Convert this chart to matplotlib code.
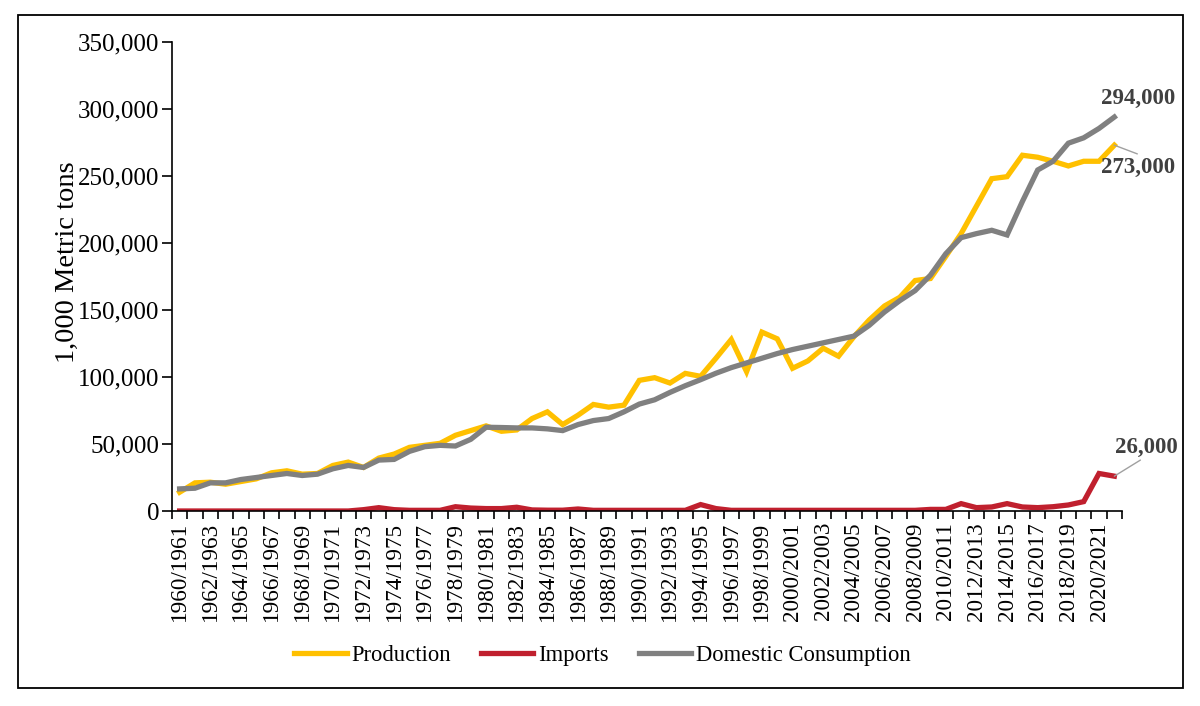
import matplotlib
matplotlib.use('Agg')
import matplotlib.pyplot as plt
from matplotlib.patches import Rectangle
from matplotlib.ticker import FuncFormatter, FixedLocator, NullFormatter
import numpy as np

plt.rcParams['font.family'] = ['Liberation Serif', 'DejaVu Serif']

# marketing years 1960/1961 .. 2021/2022
years = [f'{y}/{y + 1}' for y in range(1960, 2022)]

production = [
    14000, 21000, 21500, 20000, 22000, 24000, 28500, 30000, 27500, 28000,
    34000, 36500, 32500, 39500, 42500, 47500, 49000, 50500, 56500, 60000,
    63500, 59500, 60500, 69000, 74000, 64500, 71500, 79500, 77500, 79000,
    97500, 99500, 95500, 102700, 100500, 114000, 128000, 104000, 133500, 128500,
    106500, 112000, 121500, 115500, 130000, 142500, 153000, 159500, 172000, 173500,
    190000, 207000, 227500, 248000, 249500, 265500, 264000, 261000, 257500, 261000,
    261000, 273000,
]

imports = [
    0, 0, 0, 0, 0, 0, 0, 0, 0, 0,
    0, 0, 1000, 2500, 1000, 500, 500, 500, 3200, 2200,
    1800, 1800, 2800, 800, 600, 600, 1500, 500, 500, 500,
    500, 500, 500, 500, 4800, 1800, 500, 500, 500, 500,
    500, 500, 500, 500, 500, 500, 500, 500, 500, 1200,
    1200, 5500, 2500, 3000, 5500, 3000, 2500, 3200, 4500, 7000,
    28000, 26000,
]

consumption = [
    16500, 17000, 21000, 21000, 23500, 25000, 26500, 28000, 26500, 27500,
    31500, 34000, 32500, 38000, 38500, 44500, 48000, 49000, 48500, 53500,
    62500, 62300, 62000, 62000, 61300, 60000, 64500, 67500, 69000, 74000,
    79800, 83000, 88500, 93500, 98000, 102800, 107000, 110500, 114000, 117500,
    120500, 123000, 125500, 128000, 130500, 138500, 148500, 157000, 164500, 176000,
    192000, 204000, 207000, 209500, 206000, 231000, 254500, 261000, 274500, 278500,
    285500, 294000,
]

series = [
    ('Production', production, '#FFC000'),
    ('Imports', imports, '#C0202E'),
    ('Domestic Consumption', consumption, '#808080'),
]

fig = plt.figure(figsize=(12, 7.06), dpi=100)
ax = fig.add_axes([0.1433, 0.2762, 0.7917, 0.6643])

x = np.arange(len(years))
for name, vals, color in series:
    ax.plot(x, vals, color=color, lw=3.8, label=name, solid_joinstyle='miter')

ax.set_xlim(-0.5, len(years) - 0.5)
ax.set_ylim(0, 350000)
ax.set_yticks(np.arange(0, 350001, 50000))
ax.yaxis.set_major_formatter(FuncFormatter(lambda v, p: f'{int(v):,}'))

# category axis: tick marks between categories, labels on every second year
ax.xaxis.set_major_locator(FixedLocator(np.arange(-0.5, len(years), 1)))
ax.xaxis.set_major_formatter(NullFormatter())
ax.xaxis.set_minor_locator(FixedLocator(x[::2]))
ax.set_xticklabels(years[::2], minor=True, rotation=90, fontsize=16.7)
ax.tick_params(axis='x', which='major', length=6, width=1.2, direction='out')
ax.tick_params(axis='x', which='minor', length=0, pad=8)
ax.tick_params(axis='y', length=7, width=1.2, labelsize=18, pad=2)

for s in ['top', 'right']:
    ax.spines[s].set_visible(False)
for s in ['left', 'bottom']:
    ax.spines[s].set_linewidth(1.2)
ax.set_ylabel('1,000 Metric tons', fontsize=20.5)
ax.yaxis.set_label_coords(-0.097, 0.53)

# end value labels
last = len(years) - 1
lbl = dict(fontsize=16.5, fontweight='bold', color='#404040', ha='left', va='center')
leader = dict(arrowstyle='-', color='#A0A0A0', lw=1, shrinkA=0, shrinkB=0)
ax.text(last - 0.85, 308000, f'{consumption[-1]:,}', clip_on=False, **lbl)
ax.text(last - 0.85, 256000, f'{production[-1]:,}', clip_on=False, **lbl)
ax.text(last + 0.05, 47500, f'{imports[-1]:,}', clip_on=False, **lbl)
ax.annotate('', xy=(last, production[-1]), xytext=(last + 1.5, 266500),
            arrowprops=leader, annotation_clip=False)
ax.annotate('', xy=(last, imports[-1]), xytext=(last + 1.7, 38000),
            arrowprops=leader, annotation_clip=False)

fig.legend(loc='center', bbox_to_anchor=(0.502, 0.072), ncol=3, frameon=False,
           fontsize=16.3, handlelength=2.3, handletextpad=0.2, columnspacing=1.35)

fig.patches.append(Rectangle((0.015, 0.026), 0.971, 0.953, transform=fig.transFigure,
                             fill=False, edgecolor='black', lw=1.3))

fig.savefig('out.png', dpi=100)
